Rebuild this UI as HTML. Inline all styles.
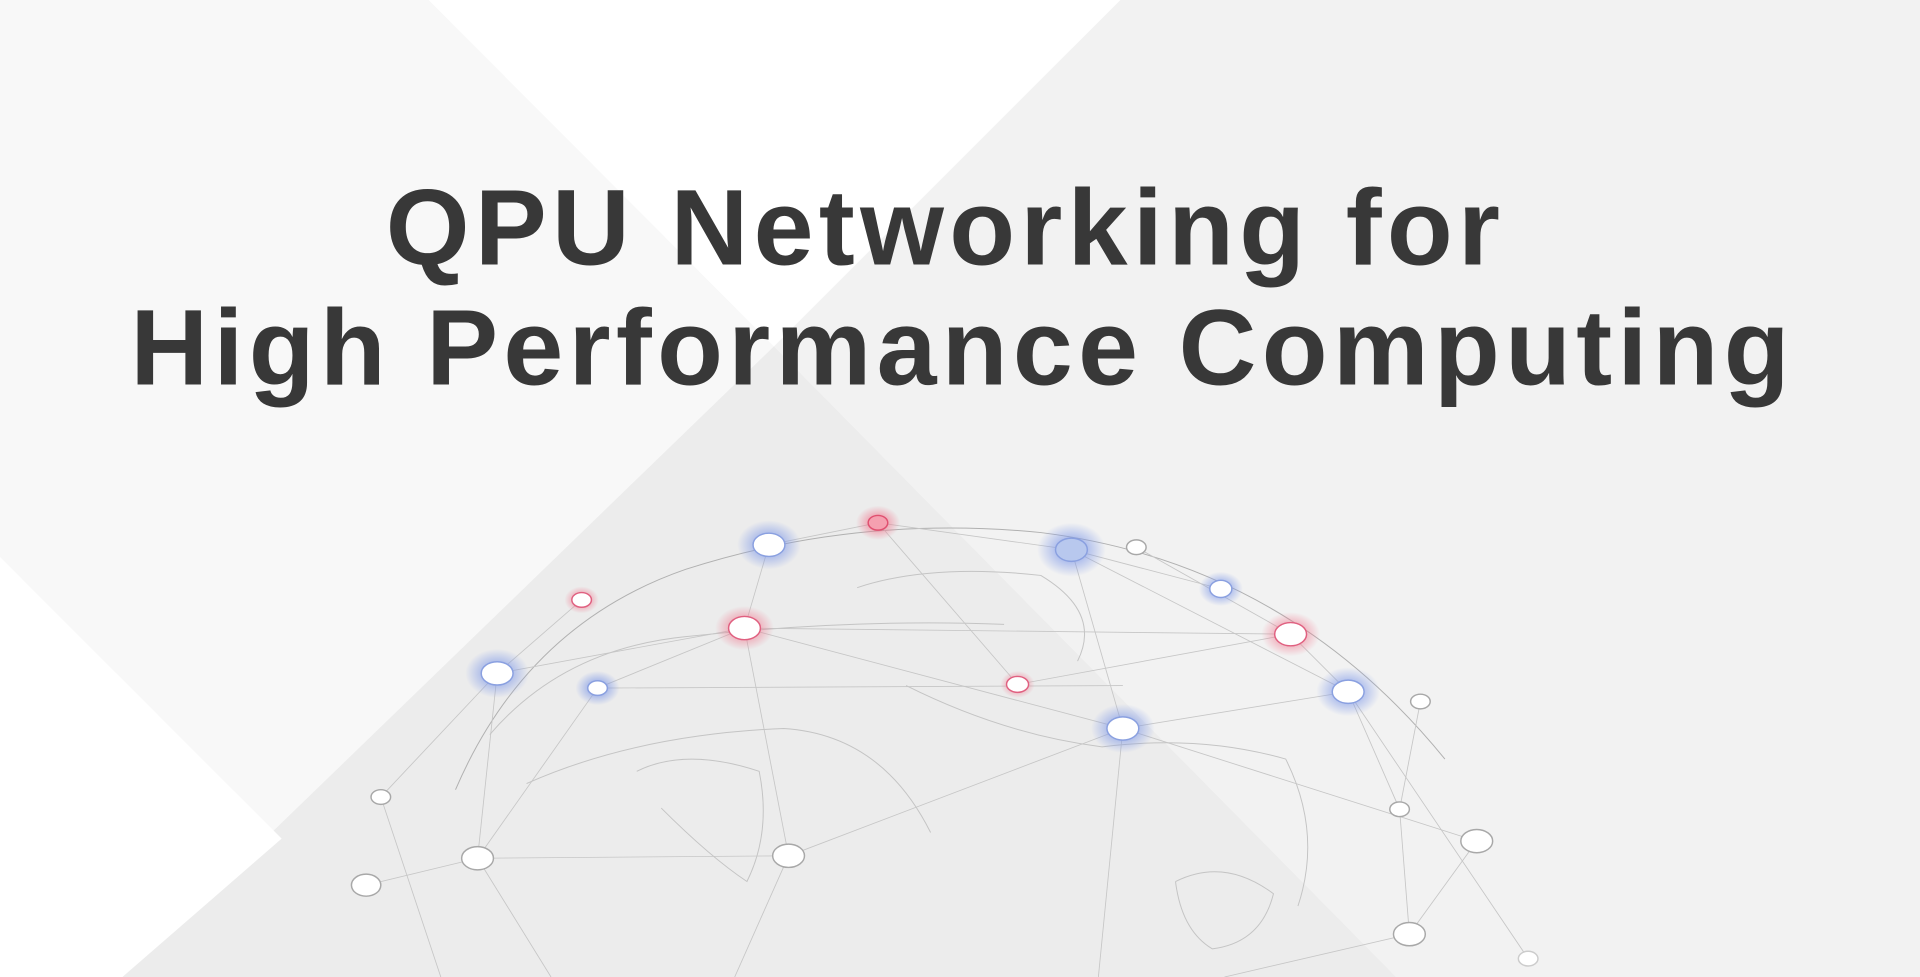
<!DOCTYPE html>
<html><head><meta charset="utf-8"><style>
html,body{margin:0;padding:0;width:1920px;height:977px;overflow:hidden;background:#f2f2f2}
svg{display:block}
</style></head><body>
<svg width="1920" height="977" viewBox="0 0 1568 798" preserveAspectRatio="none" xmlns="http://www.w3.org/2000/svg">
<defs>
<radialGradient id="gb"><stop offset="0.4" stop-color="#7b96e8" stop-opacity="0.6"/><stop offset="1" stop-color="#7b96e8" stop-opacity="0"/></radialGradient>
<radialGradient id="gr"><stop offset="0.4" stop-color="#f07a90" stop-opacity="0.6"/><stop offset="1" stop-color="#f07a90" stop-opacity="0"/></radialGradient>
</defs>
<rect width="1568" height="798" fill="#f2f2f2"/>
<polygon points="0,0 350,0 632,283 100,798 0,798" fill="#f8f8f8"/>
<polygon points="350,0 915,0 632,283" fill="#ffffff"/>
<polygon points="632,283 1140,798 100,798" fill="#ececec"/>
<polygon points="0,455 230,685 100,798 0,798" fill="#ffffff"/>
<text x="770" y="216" text-anchor="middle" font-family="Liberation Sans, sans-serif" font-weight="bold" font-size="88" fill="#383838" textLength="910" lengthAdjust="spacing">QPU Networking for</text>
<text x="784" y="314" text-anchor="middle" font-family="Liberation Sans, sans-serif" font-weight="bold" font-size="88" fill="#383838" textLength="1355" lengthAdjust="spacing">High Performance Computing</text>
<g fill="none" stroke="#c4c4c4" stroke-width="0.8">
<path d="M372,645 Q430,510 560,465 Q700,420 850,435 Q1050,460 1180,620" stroke="#b0b0b0"/>
<path d="M400,600 Q460,530 560,520 Q700,505 820,510"/>
<path d="M430,640 Q520,600 640,595 Q720,600 760,680"/>
<path d="M740,560 Q820,600 900,610 Q980,600 1050,620 Q1080,680 1060,740"/>
<path d="M960,720 Q1000,700 1040,730 Q1030,770 990,775 Q965,760 960,720"/>
<path d="M520,630 Q560,610 620,630 Q630,680 610,720 Q580,700 540,660"/>
<path d="M700,480 Q760,460 850,470 Q900,500 880,540"/>
</g>
<g stroke="#c6c6c6" stroke-width="0.7" fill="none">
<line x1="628" y1="445" x2="717" y2="427"/><line x1="717" y1="427" x2="875" y2="449"/><line x1="875" y1="449" x2="997" y2="481"/>
<line x1="628" y1="445" x2="608" y2="513"/><line x1="608" y1="513" x2="406" y2="550"/><line x1="608" y1="513" x2="488" y2="562"/>
<line x1="608" y1="513" x2="917" y2="595"/><line x1="608" y1="513" x2="644" y2="699"/><line x1="875" y1="449" x2="917" y2="595"/>
<line x1="875" y1="449" x2="1101" y2="565"/><line x1="917" y1="595" x2="1101" y2="565"/><line x1="475" y1="490" x2="406" y2="550"/>
<line x1="406" y1="550" x2="390" y2="701"/><line x1="406" y1="550" x2="311" y2="651"/><line x1="488" y1="562" x2="390" y2="701"/>
<line x1="488" y1="562" x2="917" y2="560"/><line x1="390" y1="701" x2="644" y2="699"/><line x1="299" y1="723" x2="390" y2="701"/>
<line x1="644" y1="699" x2="917" y2="595"/><line x1="917" y1="595" x2="897" y2="798"/><line x1="1101" y1="565" x2="1143" y2="661"/>
<line x1="1143" y1="661" x2="1151" y2="763"/><line x1="1160" y1="573" x2="1143" y2="661"/><line x1="1206" y1="687" x2="1151" y2="763"/>
<line x1="1101" y1="565" x2="1248" y2="783"/><line x1="917" y1="595" x2="1206" y2="687"/><line x1="831" y1="559" x2="1054" y2="518"/>
<line x1="608" y1="513" x2="1054" y2="518"/><line x1="717" y1="427" x2="831" y2="559"/><line x1="311" y1="651" x2="360" y2="798"/>
<line x1="390" y1="701" x2="450" y2="798"/><line x1="644" y1="699" x2="600" y2="798"/><line x1="1151" y1="763" x2="1000" y2="798"/>
<line x1="928" y1="447" x2="1054" y2="518"/><line x1="1054" y1="518" x2="1101" y2="565"/>
</g>
<g>
<ellipse cx="628" cy="445" rx="26" ry="20" fill="url(#gb)"/><ellipse cx="406" cy="550" rx="26" ry="20" fill="url(#gb)"/>
<ellipse cx="488" cy="562" rx="18" ry="14" fill="url(#gb)"/><ellipse cx="875" cy="449" rx="28" ry="22" fill="url(#gb)"/>
<ellipse cx="997" cy="481" rx="18" ry="14" fill="url(#gb)"/><ellipse cx="1101" cy="565" rx="26" ry="20" fill="url(#gb)"/>
<ellipse cx="917" cy="595" rx="26" ry="20" fill="url(#gb)"/>
<ellipse cx="717" cy="427" rx="18" ry="14" fill="url(#gr)"/><ellipse cx="475" cy="490" rx="14" ry="11" fill="url(#gr)"/>
<ellipse cx="608" cy="513" rx="24" ry="18" fill="url(#gr)"/><ellipse cx="1054" cy="518" rx="24" ry="18" fill="url(#gr)"/>
<ellipse cx="831" cy="559" rx="14" ry="11" fill="url(#gr)"/>
</g>
<g stroke-width="1.2">
<ellipse cx="628" cy="445" rx="13" ry="9.5" fill="#fff" stroke="#8aa0e0"/><ellipse cx="406" cy="550" rx="13" ry="9.5" fill="#fff" stroke="#8aa0e0"/>
<ellipse cx="488" cy="562" rx="8" ry="6" fill="#fff" stroke="#8aa0e0"/><ellipse cx="875" cy="449" rx="13" ry="9.5" fill="#b8c8ee" stroke="#8aa0e0"/>
<ellipse cx="997" cy="481" rx="9" ry="7" fill="#fff" stroke="#8aa0e0"/><ellipse cx="1101" cy="565" rx="13" ry="9.5" fill="#fff" stroke="#8aa0e0"/>
<ellipse cx="917" cy="595" rx="13" ry="9.5" fill="#fff" stroke="#8aa0e0"/>
<ellipse cx="717" cy="427" rx="8" ry="6" fill="#f5a0b0" stroke="#e05070"/><ellipse cx="475" cy="490" rx="8" ry="6" fill="#fff" stroke="#e06080"/>
<ellipse cx="608" cy="513" rx="13" ry="9.5" fill="#fff" stroke="#e06080"/><ellipse cx="1054" cy="518" rx="13" ry="9.5" fill="#fff" stroke="#e06080"/>
<ellipse cx="831" cy="559" rx="9" ry="6.5" fill="#fff" stroke="#e06080"/>
</g>
<g fill="#fff" stroke="#a8a8a8" stroke-width="1.2">
<ellipse cx="928" cy="447" rx="8" ry="6"/><ellipse cx="1160" cy="573" rx="8" ry="6"/><ellipse cx="311" cy="651" rx="8" ry="6"/>
<ellipse cx="299" cy="723" rx="12" ry="9"/><ellipse cx="390" cy="701" rx="13" ry="9.5"/><ellipse cx="644" cy="699" rx="13" ry="9.5"/>
<ellipse cx="1143" cy="661" rx="8" ry="6"/><ellipse cx="1206" cy="687" rx="13" ry="9.5"/><ellipse cx="1151" cy="763" rx="13" ry="9.5"/>
<ellipse cx="1248" cy="783" rx="8" ry="6" stroke="#ccc"/>
</g>
</svg>
</body></html>
